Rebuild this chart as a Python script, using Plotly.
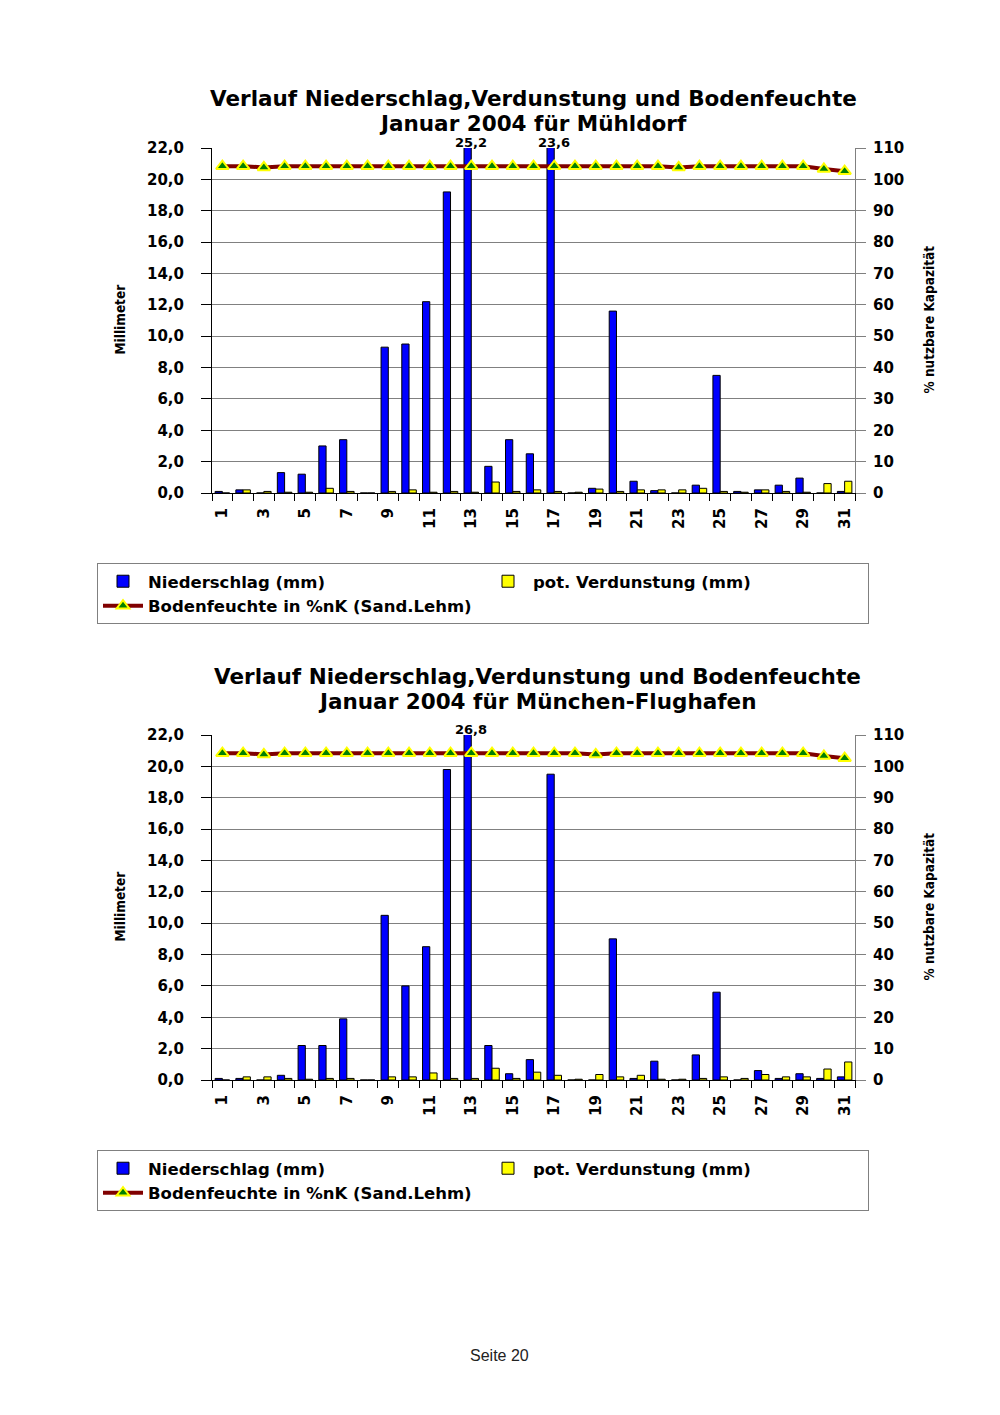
import plotly.graph_objects as go

days = list(range(1, 32))
tick_days = [1, 3, 5, 7, 9, 11, 13, 15, 17, 19, 21, 23, 25, 27, 29, 31]
tick_labels = [str(d) for d in tick_days]

# Chart 1: Mühldorf
niederschlag_m = [0.1, 0.2, 0.0, 1.3, 1.2, 3.0, 3.4, 0.0, 9.3, 9.5, 12.2, 19.2, 25.2, 1.7, 3.4, 2.5,
                  23.6, 0.0, 0.3, 11.6, 0.75, 0.15, 0.0, 0.5, 7.5, 0.1, 0.2, 0.5, 0.95, 0.0, 0.1]
verdunstung_m = [0.0, 0.2, 0.1, 0.05, 0.05, 0.3, 0.1, 0.0, 0.1, 0.2, 0.05, 0.1, 0.05, 0.7, 0.1, 0.2,
                 0.1, 0.05, 0.25, 0.1, 0.2, 0.2, 0.2, 0.3, 0.1, 0.05, 0.2, 0.1, 0.05, 0.6, 0.75]
boden_m = [104.2, 104.2, 103.8, 104.2, 104.2, 104.2, 104.2, 104.2, 104.2, 104.2, 104.2, 104.2, 104.2,
           104.2, 104.2, 104.2, 104.2, 104.2, 104.2, 104.2, 104.2, 104.2, 103.8, 104.2, 104.2, 104.2,
           104.2, 104.2, 104.2, 103.3, 102.6]

# Chart 2: München-Flughafen
niederschlag_f = [0.1, 0.1, 0.0, 0.3, 2.2, 2.2, 3.9, 0.0, 10.5, 6.0, 8.5, 19.8, 26.8, 2.2, 0.4, 1.3,
                  19.5, 0.0, 0.0, 9.0, 0.1, 1.2, 0.0, 1.6, 5.6, 0.0, 0.6, 0.1, 0.4, 0.1, 0.2]
verdunstung_f = [0.0, 0.2, 0.2, 0.1, 0.05, 0.1, 0.1, 0.0, 0.2, 0.2, 0.45, 0.1, 0.1, 0.75, 0.1, 0.5,
                 0.3, 0.05, 0.35, 0.2, 0.3, 0.05, 0.05, 0.1, 0.2, 0.1, 0.35, 0.2, 0.2, 0.7, 1.15]
boden_f = [104.2, 104.2, 103.8, 104.2, 104.2, 104.2, 104.2, 104.2, 104.2, 104.2, 104.2, 104.2, 104.2,
           104.2, 104.2, 104.2, 104.2, 104.2, 103.8, 104.2, 104.2, 104.2, 104.2, 104.2, 104.2, 104.2,
           104.2, 104.2, 104.2, 103.3, 102.6]

Y_MAX = 22
titles = [("Verlauf Niederschlag,Verdunstung und Bodenfeuchte", "Januar 2004 für Mühldorf"),
          ("Verlauf Niederschlag,Verdunstung und Bodenfeuchte", "Januar 2004 für München-Flughafen")]
names = ["Niederschlag (mm)", "pot. Verdunstung (mm)", "Bodenfeuchte in %nK (Sand.Lehm)"]

BOLD = "DejaVu Sans"
NARROW = "Liberation Sans Narrow, DejaVu Sans Condensed, Liberation Sans"
W = 1000.0
H = 1415.0
OFF = 8.0  # page body margin around the figure


def px_(x):
    return (x - OFF) / W


def py(y):
    return 1 - (y - OFF) / H


fig = go.Figure()

charts = [
    dict(n=niederschlag_m, v=verdunstung_m, b=boden_m, top=148, bottom=493, leg="legend",
         xa="x", ya="y", ya2="y2", t1=98, t2=123, tx=533, legy=563),
    dict(n=niederschlag_f, v=verdunstung_f, b=boden_f, top=735, bottom=1080, leg="legend2",
         xa="x2", ya="y3", ya2="y4", t1=676, t2=701, tx=537, legy=1150),
]

annotations = []
for i, c in enumerate(charts):
    fig.add_trace(go.Bar(x=days, y=c["n"], name=names[0], marker=dict(color="#0000FF", line=dict(color="black", width=1)),
                         xaxis=c["xa"], yaxis=c["ya"], legend=c["leg"]))
    fig.add_trace(go.Bar(x=days, y=c["v"], name=names[1], marker=dict(color="#FFFF00", line=dict(color="black", width=1)),
                         xaxis=c["xa"], yaxis=c["ya"], legend=c["leg"]))
    fig.add_trace(go.Scatter(x=days, y=c["b"], name=names[2], mode="lines+markers",
                             line=dict(color="#800000", width=4),
                             marker=dict(symbol="triangle-up", size=11, color="#008000",
                                         line=dict(color="#FFFF00", width=2)),
                             xaxis=c["xa"], yaxis=c["ya2"], legend=c["leg"]))
    # labels for bars exceeding the axis
    for d, val in zip(days, c["n"]):
        if val > Y_MAX:
            annotations.append(dict(x=d, y=Y_MAX, xref=c["xa"], yref=c["ya"], yanchor="bottom",
                                    xanchor="center", yshift=-3, borderpad=0,
                                    text=f"<b>{val:.1f}</b>".replace(".", ","), showarrow=False,
                                    font=dict(family=BOLD, size=13, color="black")))
    t1, t2 = titles[i]
    annotations.append(dict(x=px_(c["tx"]), y=py(c["t1"]), xref="paper", yref="paper", text=f"<b>{t1}</b>",
                            xanchor="center", yanchor="middle", borderpad=0,
                            showarrow=False, font=dict(family=BOLD, size=21.5, color="black")))
    annotations.append(dict(x=px_(c["tx"]), y=py(c["t2"]), xref="paper", yref="paper", text=f"<b>{t2}</b>",
                            xanchor="center", yanchor="middle", borderpad=0,
                            showarrow=False, font=dict(family=BOLD, size=21.5, color="black")))
    mid = (c["top"] + c["bottom"]) / 2 - 1
    annotations.append(dict(x=px_(119), y=py(mid), xref="paper", yref="paper", text="<b>Millimeter</b>",
                            xanchor="center", yanchor="middle",
                            textangle=-90, showarrow=False, font=dict(family=NARROW, size=13.5, color="black")))
    annotations.append(dict(x=px_(928), y=py(mid), xref="paper", yref="paper", text="<b>% nutzbare Kapazität</b>",
                            xanchor="center", yanchor="middle",
                            textangle=-90, showarrow=False, font=dict(family=NARROW, size=13.5, color="black")))

annotations.append(dict(x=px_(499), y=py(1355), xref="paper", yref="paper", text="Seite 20", showarrow=False,
                        xanchor="center", yanchor="middle",
                        font=dict(family="Liberation Sans", size=16, color="#222")))


def xaxis_cfg(anchor):
    return dict(domain=[px_(212), px_(855)], range=[0.5, 31.5], anchor=anchor, automargin=False,
                tickmode="array", tickvals=tick_days, ticktext=tick_labels, tickangle=-90,
                ticks="", ticklabelstandoff=8,
                tickfont=dict(family=BOLD, size=15, color="black", weight="bold"),
                showline=True, linecolor="black", linewidth=1, showgrid=False, zeroline=False,
                minor=dict(ticks="outside", tickmode="array", tickvals=[d - 0.5 for d in days] + [31.5],
                           ticklen=7, tickcolor="black", tickwidth=1, showgrid=False),
                fixedrange=True)


def yaxis_cfg(top, bottom, anchor):
    return dict(domain=[py(bottom), py(top)], range=[0, Y_MAX], dtick=2, tick0=0, tickformat=".1f",
                anchor=anchor, automargin=False, ticks="outside", ticklen=10, tickcolor="black",
                ticklabelstandoff=14,
                tickfont=dict(family=BOLD, size=15, color="black", weight="bold"),
                showline=True, linecolor="black", linewidth=1,
                showgrid=True, gridcolor="#808080", gridwidth=1, zeroline=False)


def yaxis2_cfg(overlay, anchor):
    return dict(overlaying=overlay, side="right", anchor=anchor, range=[0, 110], dtick=10, tick0=0,
                automargin=False,
                ticks="outside", ticklen=10, tickcolor="#808080", ticklabelstandoff=4,
                tickfont=dict(family=BOLD, size=15, color="black", weight="bold"),
                showline=True, linecolor="#808080", linewidth=1, showgrid=False, zeroline=False)


def legend_cfg(top):
    return dict(x=px_(97), y=py(top), xanchor="left", yanchor="top", orientation="h",
                entrywidth=330, entrywidthmode="pixels", bgcolor="white",
                bordercolor="#808080", borderwidth=1, itemwidth=40, tracegroupgap=0,
                font=dict(family=BOLD, size=16.5, color="black", weight="bold"))


c1, c2 = charts
fig.update_layout(
    width=1000, height=1415,
    margin=dict(l=0, r=0, t=0, b=0, autoexpand=False),
    paper_bgcolor="white", plot_bgcolor="white",
    separators=",.",
    barmode="group", bargap=0.3, bargroupgap=0,
    xaxis=xaxis_cfg("y"),
    yaxis=yaxis_cfg(c1["top"], c1["bottom"], "x"),
    yaxis2=yaxis2_cfg("y", "x"),
    xaxis2=xaxis_cfg("y3"),
    yaxis3=yaxis_cfg(c2["top"], c2["bottom"], "x2"),
    yaxis4=yaxis2_cfg("y3", "x2"),
    legend=legend_cfg(c1["legy"]),
    legend2=legend_cfg(c2["legy"]),
    annotations=annotations,
    showlegend=True,
)

fig.write_html("out.html")
